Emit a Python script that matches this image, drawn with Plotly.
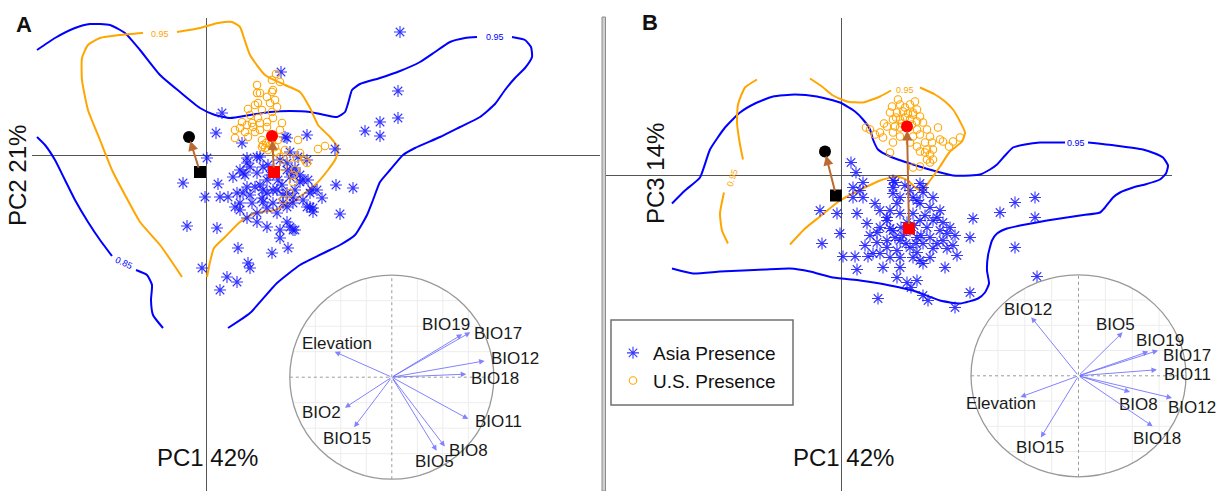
import numpy as np
import plotly.graph_objects as go

W, H = 1225, 491
FONT = "Liberation Sans, Arial, sans-serif"
BLUE = "#0000ff"
ORANGE = "#ffa500"
ARROW = "#bd6a30"
LOAD = "rgba(110,110,255,0.85)"

# ---------------- Panel A : PC1 (42%) vs PC2 (21%) ----------------
a_asia_x = [7.5, 19.4, 19.2, 19.2, 17.4, 15.9, 17.4, 12.9, 1.6, 1.0, 3.6, 0.1, -2.3, -0.1, -1.9, -0.4,
            2.1, 1.4, 3.1, 4.2, 4.4, 3.2, 6.6, 7.4, 8.2, 8.7, 8.1, 13.4, 14.7, 13.0, 11.6, 10.7,
            10.1, 7.9, 1.1, 1.2, 10.2, 11.1, 10.4, 10.4, 10.7, 8.1,
            4.1, 5.4, 8.4, 9.2, 10.1, 2.7, 3.4, 3.9, 4.4, 5.1, 5.4, 6.1, 7.4, 8.1, 8.4, 8.9, 9.4, 9.7, 10.6,
            1.4, 2.2, 3.1, 4.1, 4.9, 6.1, 7.1, 8.1, 8.9, 3.4, 4.6, 5.7, 6.7, 7.7, 8.7, 10.1, 2.9, 3.4, 5.1,
            6.1, 7.1, 8.1, 5.1, 6.1, 7.4, 8.4, 8.9, 4.1, 3.7, 5.7, 6.7, 7.7, 8.7, 9.7, 9.4, 8.7, 8.1, 5.7,
            5.1, 4.1, 3.7, 6.4, 7.2, 6.2, 7.6, 5.6, 4.4]
a_asia_y = [8.3, 12.3, 6.4, 3.7, 3.3, 2.4, 1.9, 0.6, 4.2, 2.2, 1.2, -0.3, -2.8, -4.2, -7.1, -11.3,
            -12.2, -13.5, -12.7, -10.8, -11.3, -9.3, -9.8, -8.3, -9.3, -7.5, -6.7, -5.9, -3.3, -3.0, -4.3, -5.3,
            2.0, 1.8, -7.3, -2.9, -2.5, -3.5, -3.8, -5.2, -5.7, 1.7,
            -0.3, -0.2, 0.3, -0.2, -0.5, -2.2, -1.5, -2.0, -1.2, -1.8, -3.0, -2.5, -0.5, -1.5, -2.2, -1.3, -2.0, -2.5, -3.5,
            -4.2, -4.2, -3.8, -3.2, -3.2, -3.8, -3.5, -3.8, -3.5, -4.8, -4.8, -4.7, -4.8, -4.8, -4.8, -5.2, -5.2, -5.5, -5.8,
            -5.3, -5.8, -5.2, -6.7, -7.2, -7.5, -7.2, -7.5, -6.3, -3.8, -3.5, -3.5, -4.0, -4.2, -4.5, -2.7, -1.8, -0.8, -1.2,
            -0.2, -0.8, -1.8, -2.0, -2.5, -1.0, -3.0, -4.3, -4.0]

a_us_x = [7.0, 7.4, 6.6, 5.1, 5.4, 6.6, 6.1, 5.1, 5.2, 6.4, 6.9, 7.1, 4.2, 5.6, 6.6, 3.6, 4.6, 5.4, 6.1, 7.6,
          6.7, 2.9, 3.9, 4.9, 7.4, 3.4, 4.1, 4.7, 5.4, 6.1, 2.9, 4.2, 5.6, 5.7, 5.9, 6.4, 6.9, 6.2, 9.2, 11.2,
          11.9, 7.4, 8.4, 9.1, 9.9, 9.4, 7.7, 8.9, 8.7, 8.4, 7.7, 10.1, 8.7, 4.9, 6.7, 7.9, 7.2, 5.2, 4.4, 5.6,
          6.6, 7.1, 6.0]
a_us_y = [8.1, 7.3, 7.5, 7.0, 6.2, 6.3, 5.8, 6.2, 5.2, 5.2, 5.5, 4.8, 4.6, 4.5, 4.3, 3.3, 3.2, 3.2, 3.3, 3.2,
          3.7, 2.5, 2.3, 2.3, 2.5, 2.7, 3.0, 2.8, 2.5, 2.8, 1.7, 1.8, 1.5, 1.0, 0.7, 1.0, 0.8, 0.5, 1.5, 0.6,
          0.9, -0.2, -0.3, -0.3, -0.5, 0.2, -1.2, -1.5, -2.0, -3.8, -4.5, -0.8, -2.7, 5.0, 6.5, 0.5, 1.5, 3.7, 4.0, 0.8,
          1.3, 0.3, 1.2]

# 0.95 / 0.85 density contour paths (None = label gap)
a_blue_c1_x = [-16.9, -15.1, -13.1, -11.6, -9.6, -8.1, -6.6, -4.6, -2.6, -0.6, 0.9, 2.4, 4.4, 6.4, 8.4, 10.4,
               11.9, 13.1, 13.9, 14.3, 14.6, 15.4, 17.4, 19.4, 21.4, 22.9, 24.4, 25.9, 27.1, None,
               30.6, 31.9, 32.5, 32.6, 31.9, 30.9, 29.9, 28.9, 27.4, 25.4, 23.4, 20.9, 19.7, 18.4, 17.4,
               16.7, 16.1, 14.9, 13.4, 12.4, 9.4, 7.1, 4.4, 2.2]
a_blue_c1_y = [10.5, 11.7, 12.7, 13.1, 13.0, 12.2, 10.5, 8.0, 6.3, 4.7, 4.0, 3.7, 4.0, 4.3, 4.4, 4.3,
               4.0, 3.8, 4.3, 5.5, 6.5, 7.1, 7.7, 8.4, 9.3, 10.3, 11.3, 11.7, 11.8, None,
               11.8, 11.5, 10.8, 9.8, 8.7, 7.7, 6.5, 5.1, 3.8, 2.8, 1.8, 0.7, 0.0, -1.5, -2.7,
               -4.5, -6.0, -8.0, -9.0, -9.5, -11.0, -12.8, -15.8, -17.3]
a_blue_c2_x = [-16.9, -16.1, -15.1, -14.1, -13.1, -11.8, -10.6, -9.4, None, -7.0, -5.9, -5.4, -5.5, -5.3, -4.3]
a_blue_c2_y = [1.8, 1.0, -0.5, -2.5, -4.5, -6.7, -8.5, -10.1, None, -11.5, -12.0, -13.0, -14.5, -16.0, -17.3]
a_orange_c_x = [-2.4, -3.4, -4.6, -6.6, -8.1, -9.4, -10.6, -11.8, -12.4, -12.4, -11.8, -10.6, -8.6, -6.3, None,
                -2.9, -0.6, 1.2, 2.6, 3.4, 3.8, 4.4, 5.9, 7.9, 9.4, 10.4, 11.2, 12.4, 13.2, 13.0, 12.2,
                10.9, 8.9, 6.9, 4.9, 3.4, 1.9, 0.8, 0.4, 0.1]
a_orange_c_y = [-12.2, -10.7, -9.0, -6.7, -4.0, -1.5, 1.5, 4.5, 7.5, 9.7, 11.0, 11.7, 12.0, 12.2, None,
                12.3, 12.7, 13.2, 13.3, 12.8, 11.7, 10.0, 8.0, 7.0, 6.3, 4.7, 3.0, 1.8, 0.7, -0.3, -1.5,
                -3.0, -4.5, -5.5, -5.8, -6.7, -8.2, -9.3, -10.7, -12.2]
a_clabels = [("0.95", 28.85, 11.8, BLUE, 0), ("0.85", -8.2, -10.8, BLUE, 25), ("0.95", -4.6, 12.1, ORANGE, 0)]

# centroid shifts (start = square, end = circle): [other, Asia->US]
a_start_x = [-0.6, 6.8]
a_start_y = [-1.7, -1.7]
a_end_x = [-1.7, 6.6]
a_end_y = [1.8, 1.9]
cent_colors = ["black", "#ff0000"]

# correlation circle A
a_vars = ["Elevation", "BIO19", "BIO17", "BIO12", "BIO18", "BIO11", "BIO8", "BIO5", "BIO2", "BIO15"]
a_load_x = [-0.56, 0.69, 0.77, 0.91, 0.73, 0.75, 0.52, 0.44, -0.46, -0.37]
a_load_y = [0.25, 0.42, 0.44, 0.16, 0.03, -0.41, -0.68, -0.72, -0.30, -0.49]
a_lab_x = [-0.54, 0.53, 1.04, 1.21, 1.01, 1.05, 0.75, 0.42, -0.69, -0.44]
a_lab_y = [0.33, 0.52, 0.43, 0.18, -0.01, -0.43, -0.72, -0.83, -0.35, -0.60]

# ---------------- Panel B : PC1 (42%) vs PC3 (14%) ----------------
b_asia_x = [1.0, 1.5, 1.2, 2.2, 1.9, 1.2, 2.2, -0.4, 1.6, -2.1, -0.1, -1.9, 0.2, 1.4, 2.7, 1.6, 3.7, 5.6,
            6.6, 7.6, 8.2, 8.7, 10.4, 11.4, 3.4, 2.6, 3.6, 4.9, 5.2, 5.6, 5.4, 7.9, 13.2, 12.9, 15.9, 17.4,
            19.4, 19.4, 17.4, 19.6, 12.9, 8.2, 7.0,
            8.2, 7.2, 5.2, 7.9, 8.9, 5.9, 7.2, 9.6, 4.6, 3.9, 5.2, 8.6, 9.9, 10.6, 8.9, 7.6, 5.9, 4.6, 10.2,
            8.2, 11.2, 5.6, 6.9, 9.2, 10.6, 4.9, 7.2, 5.9, 3.9, 10.9, 10.2, 6.6, 7.9, 3.9, 4.6, 3.6, 4.6, 7.6,
            9.2, 3.2, 8.9, 7.9, 5.9, 4.2, 7.6, 5.9, 6.9, 9.2, 8.2, 5.2, 6.4, 9.9, 11.4, 11.6, 2.9, 2.4, 4.9,
            8.4, 6.9, 6.2, 7.3, 6.0, 7.5, 6.5, 8.0, 5.4, 9.6]
b_asia_y = [1.3, 0.3, -1.2, -0.7, -1.5, -2.2, -2.2, -3.8, -3.8, -3.5, -5.8, -6.8, -8.1, -8.1, -8.1, -9.4, -12.3, -10.2,
            -10.7, -10.5, -12.0, -12.5, -9.2, -13.2, -2.8, -4.8, -5.7, -5.3, -1.2, -2.8, -0.7, -0.8, -4.3, -6.2, -3.7, -2.7,
            -2.2, -4.2, -7.2, -10.1, -11.7, -8.8, -11.2,
            -1.7, -2.2, -1.8, -2.8, -3.2, -3.8, -3.8, -4.2, -4.2, -5.2, -5.5, -5.2, -5.5, -5.8, -6.2, -6.2, -6.5, -6.5, -6.5,
            -6.8, -7.0, -7.5, -7.2, -7.3, -7.3, -8.2, -8.2, -8.2, -7.8, -5.2, -4.7, -4.7, -4.5, -3.5, -4.5, -6.7, -7.2, -7.7,
            -4.5, -7.8, -8.2, -8.5, -9.2, -9.2, -2.5, -2.2, -1.5, -2.2, -1.2, -0.5, -1.0, -3.5, -6.0, -8.0, -6.0, -7.0, -3.5,
            -4.0, -5.5, -6.0, -5.0, -5.2, -6.8, -6.8, -6.0, -6.2, -6.8]

b_us_x = [5.1, 5.9, 6.9, 7.6, 4.9, 5.6, 6.2, 7.2, 7.9, 5.2, 5.9, 7.6, 8.2, 4.6, 5.4, 7.6, 8.6, 2.9, 3.9, 5.2,
          5.9, 7.2, 7.9, 8.9, 4.2, 5.2, 6.9, 7.6, 8.4, 9.1, 8.6, 9.2, 9.9, 10.2, 11.2, 7.9, 8.9, 9.2, 8.6, 7.9,
          4.9, 3.4, 5.9, 6.6, 6.9, 7.2, 4.3, 9.7, 11.9, 8.4, 8.9, 7.2, 2.5, 10.8, 6.4, 6.7, 6.1, 7.1, 5.5, 6.4,
          7.4, 5.7]
b_us_y = [6.9, 7.1, 7.1, 6.6, 6.3, 6.3, 6.4, 6.3, 5.9, 5.6, 5.6, 5.4, 5.3, 4.9, 4.9, 4.6, 4.6, 4.6, 4.3, 4.3,
          3.9, 3.9, 4.1, 3.9, 3.8, 3.3, 3.3, 2.9, 3.3, 3.3, 2.6, 2.6, 3.6, 3.4, 3.4, 2.4, 2.1, 1.6, 1.6, 0.9,
          2.3, 4.1, 4.8, 4.9, 5.6, 6.1, 5.2, 4.8, 3.8, 2.3, 1.3, 0.8, 4.8, 2.9, 5.8, 6.2, 5.2, 5.1, 5.8, 6.8,
          7.4, 7.6]

b_blue_c_x = [-16.9, -15.6, -14.1, -13.1, -11.6, -10.1, -8.6, -6.8, -4.6, -2.4, -0.1, 1.4, 2.2, 2.9, 3.2, 3.7,
              4.9, 7.2, 9.2, 11.2, 12.9, 13.9, 14.9, 15.6, 16.4, 17.2, 18.4, 19.9, 22.4, None,
              24.7, 27.4, 30.2, 31.4, 32.2, 32.7, 32.5, 31.9, 30.4, 29.2, 27.9, 27.2, 26.4, 25.9, 23.9, 20.6,
              17.9, 16.6, 15.6, 15.1, 14.7, 14.6, 14.8, 14.4, 13.7, 11.9, 9.9, 7.2, 5.9, 3.9, 1.9, -0.8,
              -3.1, -5.1, -7.6, -9.8, -12.1, -14.8, -16.9]
b_blue_c_y = [-2.8, -1.5, -0.2, 2.6, 4.8, 6.3, 7.2, 7.9, 8.1, 7.9, 7.3, 6.4, 5.6, 4.6, 3.6, 2.6,
              1.9, 1.1, 0.5, 0.0, 0.0, 0.1, 0.6, 1.1, 2.0, 2.8, 3.1, 3.3, 3.3, None,
              3.3, 3.0, 2.6, 2.2, 1.8, 1.0, 0.2, -0.4, -0.9, -1.2, -1.7, -2.2, -3.2, -3.7, -4.0, -4.5,
              -5.0, -5.3, -5.8, -6.5, -8.0, -9.5, -10.8, -11.7, -12.3, -12.8, -12.5, -11.5, -11.2, -10.8, -10.5, -10.2,
              -9.6, -9.3, -9.4, -9.5, -9.6, -9.8, -9.3]
b_orange_c1_x = [-8.4, -9.6, -10.3, -10.4, -10.1, -9.8, None, -11.7, -12.1, -11.9, -11.3]
b_orange_c1_y = [9.6, 8.8, 7.1, 5.3, 3.1, 1.6, None, -1.7, -3.8, -5.5, -6.8]
b_orange_c2_x = [-3.1, -1.9, -0.8, 0.6, 2.2, 3.9, 5.0, None, 7.9, 9.4, 10.4, 11.2, 11.9, 12.4, 12.1, 10.9,
                 9.9, 8.9, 8.1, 7.4, 6.7, 5.6, 3.9, 2.6, -0.1, -2.1, -3.6, -5.1]
b_orange_c2_y = [9.7, 8.9, 8.0, 7.4, 7.3, 7.9, 8.5, None, 8.8, 8.1, 7.4, 6.6, 5.4, 4.3, 3.4, 2.4,
                 0.9, -0.5, -1.5, -1.2, -0.5, -0.1, -0.5, -1.1, -2.5, -4.1, -5.3, -6.9]
b_clabels = [("0.95", 23.5, 3.3, BLUE, 0), ("0.95", 6.4, 8.6, ORANGE, 0), ("0.95", -10.9, -0.2, ORANGE, -72)]

b_start_x = [-0.5, 6.8]
b_start_y = [-2.0, -5.3]
b_end_x = [-1.6, 6.6]
b_end_y = [2.4, 4.9]

b_vars = ["BIO12", "BIO5", "BIO19", "BIO17", "BIO11", "BIO12", "BIO8", "BIO18", "Elevation", "BIO15"]
b_load_x = [-0.44, 0.41, 0.65, 0.74, 0.73, 0.87, 0.48, 0.69, -0.54, -0.35]
b_load_y = [0.58, 0.43, 0.24, 0.25, 0.06, -0.22, -0.16, -0.50, -0.21, -0.61]
b_lab_x = [-0.47, 0.34, 0.76, 1.01, 1.01, 1.06, 0.56, 0.73, -0.72, -0.36]
b_lab_y = [0.66, 0.51, 0.35, 0.20, 0.01, -0.31, -0.28, -0.62, -0.27, -0.71]

# ---------------- figure ----------------
fig = go.Figure()


def contour(xs, ys, color, xa, ya):
    fig.add_trace(go.Scatter(x=xs, y=ys, mode="lines", xaxis=xa, yaxis=ya,
                             line=dict(color=color, width=2, shape="spline", smoothing=0.5),
                             connectgaps=False, showlegend=False, hoverinfo="skip"))


def points(xs, ys, xa, ya, legend):
    fig.add_trace(go.Scatter(x=xs, y=ys, mode="markers", xaxis=xa, yaxis=ya, name="Asia Presence",
                             marker=dict(symbol="asterisk-open", size=10, color="rgba(20,20,255,0.85)",
                                         line=dict(width=1.1, color="rgba(20,20,255,0.85)")),
                             showlegend=legend, legendrank=1, hoverinfo="skip"))


def uspoints(xs, ys, xa, ya, legend):
    fig.add_trace(go.Scatter(x=xs, y=ys, mode="markers", xaxis=xa, yaxis=ya, name="U.S. Presence",
                             marker=dict(symbol="circle-open", size=7.5, color=ORANGE,
                                         line=dict(width=1.1, color=ORANGE)),
                             showlegend=legend, legendrank=2, hoverinfo="skip"))


def centroids(sx, sy, ex, ey, xa, ya):
    fig.add_trace(go.Scatter(x=sx, y=sy, mode="markers", xaxis=xa, yaxis=ya,
                             marker=dict(symbol="square", size=12, color=cent_colors),
                             showlegend=False, hoverinfo="skip"))
    fig.add_trace(go.Scatter(x=ex, y=ey, mode="markers", xaxis=xa, yaxis=ya,
                             marker=dict(symbol="circle", size=12, color=cent_colors),
                             showlegend=False, hoverinfo="skip"))
    for i in range(len(sx)):
        fig.add_annotation(x=ex[i], y=ey[i], ax=sx[i], ay=sy[i], xref=xa, yref=ya,
                           axref=xa, ayref=ya, text="", showarrow=True, arrowhead=2,
                           arrowsize=1, arrowwidth=2, arrowcolor=ARROW, standoff=4, startstandoff=3)


# Panel A
contour(a_blue_c1_x, a_blue_c1_y, BLUE, "x", "y")
contour(a_blue_c2_x, a_blue_c2_y, BLUE, "x", "y")
contour(a_orange_c_x, a_orange_c_y, ORANGE, "x", "y")
points(a_asia_x, a_asia_y, "x", "y", True)
uspoints(a_us_x, a_us_y, "x", "y", True)
centroids(a_start_x, a_start_y, a_end_x, a_end_y, "x", "y")

# Panel B
contour(b_blue_c_x, b_blue_c_y, BLUE, "x2", "y2")
contour(b_orange_c1_x, b_orange_c1_y, ORANGE, "x2", "y2")
contour(b_orange_c2_x, b_orange_c2_y, ORANGE, "x2", "y2")
points(b_asia_x, b_asia_y, "x2", "y2", False)
uspoints(b_us_x, b_us_y, "x2", "y2", False)
centroids(b_start_x, b_start_y, b_end_x, b_end_y, "x2", "y2")

for lab, lx, ly, col, ang in a_clabels:
    fig.add_annotation(x=lx, y=ly, xref="x", yref="y", text=lab, showarrow=False, textangle=ang,
                       xanchor="center", yanchor="middle",
                       font=dict(size=9, color=col, family=FONT))
for lab, lx, ly, col, ang in b_clabels:
    fig.add_annotation(x=lx, y=ly, xref="x2", yref="y2", text=lab, showarrow=False, textangle=ang,
                       xanchor="center", yanchor="middle",
                       font=dict(size=9, color=col, family=FONT))

# correlation circles
shapes = []


def circle_inset(xr, yr, vars_, lx, ly, tx, ty):
    c = np.array([-0.75, -0.5, -0.25, 0.25, 0.5, 0.75])
    h = np.sqrt(1 - c ** 2)
    for ci, hi in zip(c, h):
        shapes.append(dict(type="line", xref=xr, yref=yr, x0=ci, x1=ci, y0=-hi, y1=hi,
                           line=dict(color="#ededed", width=1), layer="below"))
        shapes.append(dict(type="line", xref=xr, yref=yr, x0=-hi, x1=hi, y0=ci, y1=ci,
                           line=dict(color="#ededed", width=1), layer="below"))
    shapes.append(dict(type="line", xref=xr, yref=yr, x0=0, x1=0, y0=-1, y1=1,
                       line=dict(color="#9a9a9a", width=1, dash="dot")))
    shapes.append(dict(type="line", xref=xr, yref=yr, x0=-1, x1=1, y0=0, y1=0,
                       line=dict(color="#9a9a9a", width=1, dash="dot")))
    shapes.append(dict(type="circle", xref=xr, yref=yr, x0=-1, x1=1, y0=-1, y1=1,
                       line=dict(color="#999999", width=1.3)))
    for i in range(len(vars_)):
        fig.add_annotation(x=lx[i], y=ly[i], ax=0, ay=0, xref=xr, yref=yr, axref=xr, ayref=yr,
                           text="", showarrow=True, arrowhead=2, arrowsize=1.1, arrowwidth=1,
                           arrowcolor=LOAD)
        fig.add_annotation(x=tx[i], y=ty[i], xref=xr, yref=yr, text=vars_[i], showarrow=False,
                           xanchor="center", yanchor="middle",
                           font=dict(size=17, color="#1a1a1a", family=FONT))


circle_inset("x3", "y3", a_vars, a_load_x, a_load_y, a_lab_x, a_lab_y)
circle_inset("x4", "y4", b_vars, b_load_x, b_load_y, b_lab_x, b_lab_y)

# separator and legend frame
shapes.append(dict(type="rect", xref="paper", yref="paper", x0=602 / W, x1=605.5 / W,
                   y0=0, y1=1 - 17 / H, line=dict(color="#8c8c8c", width=1), fillcolor="#d0d0d0"))
shapes.append(dict(type="rect", xref="paper", yref="paper", x0=611 / W, x1=793 / W,
                   y0=1 - 405 / H, y1=1 - 320 / H, line=dict(color="#707070", width=1.5)))

# texts
texts = [("A", 24, 24, 0, 22, True), ("B", 650, 23, 0, 22, True),
         ("PC1 42%", 207.5, 457, 0, 24, False), ("PC2 21%", 18, 176, -90, 24, False),
         ("PC1 42%", 843.5, 457, 0, 24, False), ("PC3 14%", 655, 174, -90, 24, False)]
for t, px, py, ang, sz, bold in texts:
    fig.add_annotation(x=px / W, y=1 - py / H, xref="paper", yref="paper", showarrow=False,
                       xanchor="center", yanchor="middle",
                       text=f"<b>{t}</b>" if bold else t, textangle=ang,
                       font=dict(size=sz, color="#111111", family=FONT))

axis_main = dict(showgrid=False, showticklabels=False, ticks="", showline=False,
                 zeroline=True, zerolinecolor="#555555", zerolinewidth=1.4)
axis_off = dict(visible=False, showgrid=False, zeroline=False)

cxA, cyA, rA = 391.8, 377.2, 102.0
cxB, cyB, rxB, ryB = 1078.5, 375.8, 107.5, 101.0

fig.update_layout(
    width=W, height=H, margin=dict(l=0, r=0, t=0, b=0),
    paper_bgcolor="white", plot_bgcolor="rgba(0,0,0,0)",
    font=dict(family=FONT),
    xaxis=dict(domain=[32 / W, 600 / W], range=[-17.4, 39.4], anchor="y", **axis_main),
    yaxis=dict(domain=[0, 1 - 18 / H], range=[-33.6, 13.7], anchor="x", **axis_main),
    xaxis2=dict(domain=[605 / W, 1172 / W], range=[-23.6, 33.1], anchor="y2", **axis_main),
    yaxis2=dict(domain=[0, 1 - 18 / H], range=[-31.55, 15.75], anchor="x2", **axis_main),
    xaxis3=dict(domain=[(cxA - 1.3 * rA) / W, (cxA + 1.35 * rA) / W], range=[-1.3, 1.35],
                anchor="y3", **axis_off),
    yaxis3=dict(domain=[1 - (cyA + 1.1 * rA) / H, 1 - (cyA - 1.2 * rA) / H], range=[-1.1, 1.2],
                anchor="x3", **axis_off),
    xaxis4=dict(domain=[(cxB - 1.3 * rxB) / W, (cxB + 1.35 * rxB) / W], range=[-1.3, 1.35],
                anchor="y4", **axis_off),
    yaxis4=dict(domain=[1 - (cyB + 1.14 * ryB) / H, 1 - (cyB - 1.2 * ryB) / H], range=[-1.14, 1.2],
                anchor="x4", **axis_off),
    shapes=shapes,
    showlegend=True,
    legend=dict(x=613 / W, y=1 - 334 / H, xanchor="left", yanchor="top",
                bgcolor="rgba(0,0,0,0)", borderwidth=0, traceorder="normal",
                font=dict(size=19, color="#111111", family=FONT), tracegroupgap=6),
)

fig.write_html("out.html")
